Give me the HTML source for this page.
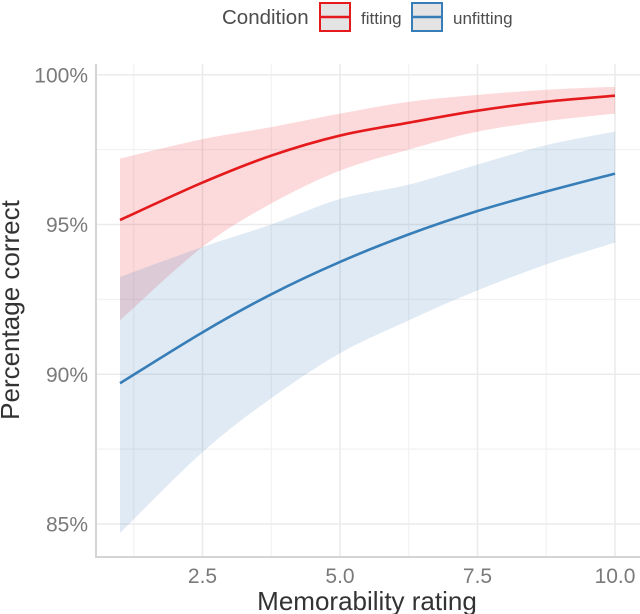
<!DOCTYPE html>
<html><head><meta charset="utf-8"><style>
body{margin:0;background:#fff;}
svg{display:block;font-family:"Liberation Sans",sans-serif;}
</style></head><body>
<svg id="chart" width="640" height="614" viewBox="0 0 640 614">
<g>
<text x="222" y="24" font-size="20.5" fill="#4d4d4d">Condition</text>
<g>
<rect x="320" y="3" width="30" height="28" fill="#e4e4e4" stroke="#e41a1c" stroke-width="2"/>
<line x1="321" y1="17" x2="349" y2="17" stroke="#e41a1c" stroke-width="2.5"/>
<text x="361" y="24" font-size="17" fill="#4d4d4d">fitting</text>
</g>
<g>
<rect x="412" y="3" width="30" height="28" fill="#e4e4e4" stroke="#377eb8" stroke-width="2"/>
<line x1="413" y1="17" x2="441" y2="17" stroke="#377eb8" stroke-width="2.5"/>
<text x="453" y="24" font-size="17" fill="#4d4d4d">unfitting</text>
</g>
</g>
<g id="grid"></g>
<g id="bands"></g>
<g id="lines"></g>
<g id="axes"></g>
<text x="367" y="610" font-size="26" fill="#333" text-anchor="middle">Memorability rating</text>
<text transform="translate(19,310) rotate(-90)" font-size="26" fill="#333" text-anchor="middle">Percentage correct</text>
</svg>
<script>
const xs = [1, 2.5, 3.75, 5, 6.25, 7.5, 8.75, 10];
const fitLine = [95.15, 96.4, 97.3, 97.97, 98.4, 98.8, 99.1, 99.3];
const fitUpper = [97.2, 97.85, 98.25, 98.7, 99.1, 99.33, 99.5, 99.6];
const fitLower = [91.8, 94.25, 95.7, 96.8, 97.5, 98.1, 98.45, 98.7];
const unfLine = [89.7, 91.4, 92.67, 93.75, 94.67, 95.45, 96.1, 96.7];
const unfUpper = [93.25, 94.25, 95.0, 95.85, 96.33, 97.0, 97.65, 98.1];
const unfLower = [84.7, 87.4, 89.2, 90.7, 91.8, 92.8, 93.67, 94.4];
const xTicks = [2.5, 5, 7.5, 10];
const xTickLabels = ["2.5", "5.0", "7.5", "10.0"];
const xMinor = [1.25, 3.75, 6.25, 8.75];
const yTicks = [85, 90, 95, 100];
const yTickLabels = ["85%", "90%", "95%", "100%"];
const yMinor = [87.5, 92.5, 97.5];

const NS = "http://www.w3.org/2000/svg";
const X = v => 120 + (v - 1) * 55;
const Y = v => 524 - (v - 85) * 29.95;
const L = 96, R = 640, T = 64, B = 557;

function mk(tag, attrs, parent){const e=document.createElementNS(NS,tag);for(const k in attrs)e.setAttribute(k,attrs[k]);parent.appendChild(e);return e;}
function smooth(pts){
  let d="M"+pts[0][0]+","+pts[0][1];
  for(let i=0;i<pts.length-1;i++){
    const p0=pts[Math.max(0,i-1)],p1=pts[i],p2=pts[i+1],p3=pts[Math.min(pts.length-1,i+2)];
    const c1=[p1[0]+(p2[0]-p0[0])/6,p1[1]+(p2[1]-p0[1])/6];
    const c2=[p2[0]-(p3[0]-p1[0])/6,p2[1]-(p3[1]-p1[1])/6];
    d+=" C"+c1[0]+","+c1[1]+" "+c2[0]+","+c2[1]+" "+p2[0]+","+p2[1];
  }
  return d;
}
const grid=document.getElementById('grid');
xMinor.forEach(v=>{const e=mk('line',{x1:X(v),x2:X(v),y1:T,y2:B,stroke:'#f2f2f2','stroke-width':1.2},grid);

});
yMinor.forEach(v=>{const e=mk('line',{x1:L,x2:R,y1:Y(v),y2:Y(v),stroke:'#f2f2f2','stroke-width':1.2},grid);

});
xTicks.forEach(v=>{const e=mk('line',{x1:X(v),x2:X(v),y1:T,y2:B,stroke:'#ebebeb','stroke-width':1.6},grid);

});
yTicks.forEach(v=>{const e=mk('line',{x1:L,x2:R,y1:Y(v),y2:Y(v),stroke:'#ebebeb','stroke-width':1.6},grid);

});

const bands=document.getElementById('bands');
function band(up,lo,fill,name){
  const top=xs.map((x,i)=>[X(x),Y(up[i])]);
  const bot=xs.map((x,i)=>[X(x),Y(lo[i])]).reverse();
  let d=smooth(top)+" L"+bot[0][0]+","+bot[0][1]+smooth(bot).replace(/^M[^ C]+/,"")+" Z";
  const e=mk('path',{d:d,fill:fill},bands);
  
  
}
band(fitUpper,fitLower,'rgba(238,60,70,0.19)','fitting-ci-band');
band(unfUpper,unfLower,'rgba(55,126,184,0.16)','unfitting-ci-band');

const lines=document.getElementById('lines');
function line(vals,color,name){
  const e=mk('path',{d:smooth(xs.map((x,i)=>[X(x),Y(vals[i])])),fill:'none',stroke:color,'stroke-width':2.6},lines);
  
  
}
line(fitLine,'#e41a1c','fitting-line');
line(unfLine,'#377eb8','unfitting-line');

const axes=document.getElementById('axes');
mk('line',{x1:L,x2:L,y1:T,y2:B+1,stroke:'#d4d4d4','stroke-width':2},axes);
mk('line',{x1:L-1,x2:R,y1:B,y2:B,stroke:'#d4d4d4','stroke-width':2},axes);
xTicks.forEach((v,i)=>{const t=mk('text',{x:X(v),y:583,'font-size':21,fill:'#7a7a7a','text-anchor':'middle'},axes);t.textContent=xTickLabels[i];

});
yTicks.forEach((v,i)=>{const t=mk('text',{x:88,y:Y(v)+7.5,'font-size':21,fill:'#7a7a7a','text-anchor':'end'},axes);t.textContent=yTickLabels[i];

});
</script>
</body></html>
